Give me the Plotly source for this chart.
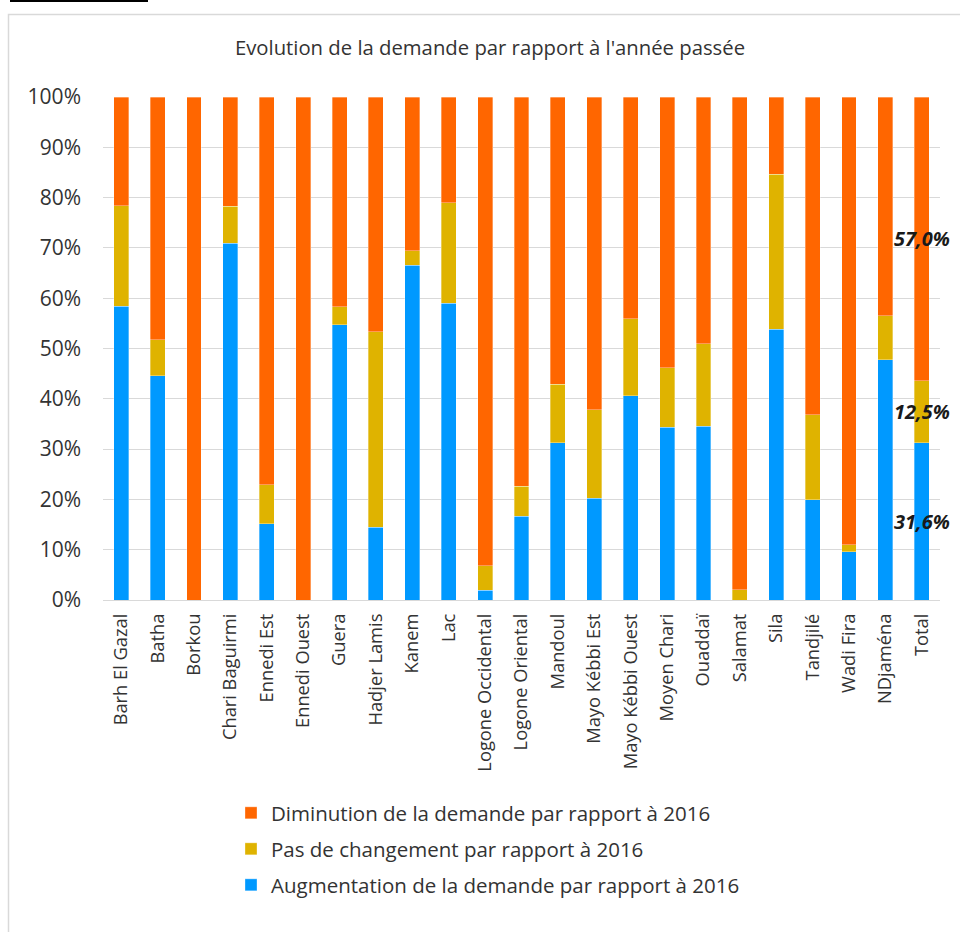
import plotly.graph_objects as go

# Regions (Chad) plus the overall total
regions = [
    "Barh El Gazal", "Batha", "Borkou", "Chari Baguirmi", "Ennedi Est",
    "Ennedi Ouest", "Guera", "Hadjer Lamis", "Kanem", "Lac",
    "Logone Occidental", "Logone Oriental", "Mandoul", "Mayo Kébbi Est",
    "Mayo Kébbi Ouest", "Moyen Chari", "Ouaddaï", "Salamat", "Sila",
    "Tandjilé", "Wadi Fira", "NDjaména", "Total",
]

# Share of respondents (%) per answer
augmentation = [58.4, 44.6, 0.0, 70.9, 15.2, 0.0, 54.7, 14.5, 66.6, 59.0,
                1.9, 16.7, 31.3, 20.2, 40.6, 34.3, 34.5, 0.0, 53.8, 19.9,
                9.6, 47.8, 31.6]
pas_de_changement = [20.0, 7.1, 0.0, 7.4, 7.7, 0.0, 3.6, 38.8, 2.8, 20.0,
                     4.9, 5.9, 11.6, 17.6, 15.3, 11.9, 16.4, 2.0, 30.8, 16.9,
                     1.4, 8.7, 12.5]
diminution = [21.6, 48.3, 100.0, 21.7, 77.1, 100.0, 41.7, 46.7, 30.6, 21.0,
              93.2, 77.4, 57.1, 62.2, 44.1, 53.8, 49.1, 98.0, 15.4, 63.2,
              89.0, 43.5, 57.0]

series_names = [
    "Augmentation de la demande par rapport à 2016",
    "Pas de changement par rapport à 2016",
    "Diminution de la demande par rapport à 2016",
]
series_values = [augmentation, pas_de_changement, diminution]
series_colors = ["#0099FF", "#DFB300", "#FF6600"]

y_ticks = [0, 10, 20, 30, 40, 50, 60, 70, 80, 90, 100]
y_tick_labels = [f"{v}%" for v in y_ticks]

FONT = "Open Sans"
TEXT = "#333333"

# Plot area in pixels (960 x 932 page)
L, R, T, B = 103, 20, 97, 332
W, H = 960, 932
pw, ph = W - L - R, H - T - B


def px_x(px):
    return (px - L) / pw


def px_y(py):
    return (H - B - py) / ph


fig = go.Figure()

legend_ids = ["legend3", "legend2", "legend"]
for name, vals, col, lg in zip(series_names, series_values, series_colors, legend_ids):
    fig.add_trace(go.Bar(
        name=name, x=regions, y=vals,
        marker=dict(color=col, line=dict(color="rgba(255,255,255,0.55)", width=0.6)),
        legend=lg, hoverinfo="x+y+name",
    ))

# Value labels on the "Total" column, centred in each normalised segment
total_idx = regions.index("Total")
tot_vals = [v[total_idx] for v in series_values]
tot_sum = sum(tot_vals)
cum = 0.0
for v in tot_vals:
    share = v / tot_sum * 100
    mid = cum + share / 2
    cum += share
    fig.add_annotation(
        x="Total", y=mid, xref="x", yref="y",
        text=f"<b><i>{v:.1f}%</i></b>".replace(".", ","),
        showarrow=False, xanchor="center", yanchor="middle",
        font=dict(family=FONT, size=20, color="#1a1a1a"),
    )

# Legend entries, one per row
legend_rows = {"legend": 813, "legend2": 849, "legend3": 885}
legend_layout = {}
for lg, py in legend_rows.items():
    legend_layout[lg] = dict(
        x=px_x(231), y=px_y(py), xanchor="left", yanchor="middle",
        font=dict(family=FONT, size=20.5, color=TEXT),
        bgcolor="rgba(0,0,0,0)", borderwidth=0,
    )

fig.update_layout(
    width=W, height=H,
    margin=dict(l=L, r=R, t=T, b=B),
    paper_bgcolor="white", plot_bgcolor="white",
    barmode="stack", barnorm="percent", bargap=0.59,
    showlegend=True,
    title=dict(
        text="Evolution de la demande par rapport à l'année passée",
        x=px_x(490), xref="paper", xanchor="center",
        y=1 - 48 / H, yref="container", yanchor="middle",
        font=dict(family=FONT, size=20.3, color=TEXT),
    ),
    font=dict(family=FONT, color=TEXT),
    xaxis=dict(
        type="category", tickangle=-90, showgrid=False,
        tickfont=dict(family=FONT, size=18.3, color=TEXT),
        ticks="", ticklabelstandoff=9, showline=False, zeroline=False,
        range=[-0.5, len(regions) - 0.5],
    ),
    yaxis=dict(
        range=[0, 100], tickvals=y_ticks, ticktext=y_tick_labels,
        tickfont=dict(family=FONT, size=21, color=TEXT),
        showgrid=True, gridcolor="#D9D9D9", gridwidth=1,
        zeroline=True, zerolinecolor="#D9D9D9", zerolinewidth=1,
        showline=False, ticks="", ticklabelstandoff=21,
    ),
    shapes=[
        # chart frame
        dict(type="rect", xref="paper", yref="paper",
             x0=px_x(8.5), x1=px_x(975), y0=px_y(14.5), y1=px_y(945),
             line=dict(color="#D9D9D9", width=1.5), fillcolor="rgba(0,0,0,0)",
             layer="below"),
        # rule at the top of the page
        dict(type="line", xref="paper", yref="paper",
             x0=px_x(10), x1=px_x(148), y0=px_y(1), y1=px_y(1),
             line=dict(color="black", width=2)),
    ],
    **legend_layout,
)

fig.write_html("out.html")
